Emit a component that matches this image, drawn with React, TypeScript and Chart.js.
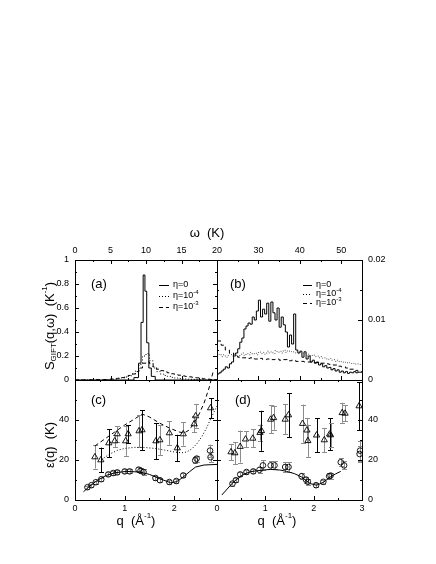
import React, { useEffect, useRef } from 'react';
import { Chart, registerables } from 'chart.js';
Chart.register(...registerables);

const W = 436;
const H = 564;
const FONT = '"Liberation Sans", Arial, Helvetica, sans-serif';

// ---------- panel (a): S(q,omega), omega 0..20 K ----------
const A_SOLID_EDGES = [0, 8.3, 8.95, 9.3, 9.6, 9.85, 10.1, 10.4, 10.75, 11.3, 20];
const A_SOLID_VALUES = [0, 0.02, 0.14, 0.48, 0.875, 0.74, 0.31, 0.1, 0.03, 0];
const A_BIN_EDGES = Array.from({ length: 41 }, (_, i) => i * 0.5);
const A_ETA4_VALUES = [
  0, 0, 0, 0, 0, 0, 0, 0, 0.002, 0.004, 0.006, 0.009, 0.013, 0.018, 0.025, 0.035,
  0.05, 0.075, 0.13, 0.2, 0.22, 0.16, 0.1, 0.07, 0.05, 0.038, 0.03, 0.022, 0.017, 0.013,
  0.01, 0.008, 0.006, 0.005, 0.004, 0.003, 0.002, 0.002, 0.001, 0.001,
];
const A_ETA3_VALUES = [
  0.001, 0.001, 0.001, 0.002, 0.002, 0.002, 0.003, 0.003, 0.004, 0.005, 0.008, 0.011, 0.015, 0.02,
  0.028, 0.038, 0.05, 0.07, 0.1, 0.14, 0.15, 0.135, 0.11, 0.09, 0.078, 0.068, 0.06, 0.052, 0.045,
  0.04, 0.034, 0.03, 0.026, 0.022, 0.018, 0.014, 0.01, 0.007, 0.005, 0.003,
];

// ---------- panel (b): omega 20..55 K ----------
const B_FINE_EDGES = Array.from({ length: 71 }, (_, i) => 20 + i * 0.5);
const B_SOLID_VALUES = [
  0.001, 0.0012, 0.0015, 0.0018, 0.0022, 0.002, 0.0027, 0.003, 0.004, 0.0045, 0.0052, 0.0063,
  0.007, 0.0085, 0.009, 0.0095, 0.0093, 0.0105, 0.01, 0.0115, 0.0133, 0.0105, 0.0118, 0.011,
  0.0128, 0.0098, 0.013, 0.0112, 0.01, 0.012, 0.0088, 0.0105, 0.0092, 0.008, 0.0055, 0.0075,
  0.006, 0.011, 0.005, 0.0045, 0.0048, 0.0038, 0.0047, 0.0035, 0.004, 0.003, 0.0033, 0.0028,
  0.003, 0.0025, 0.0027, 0.0022, 0.0024, 0.002, 0.0021, 0.0017, 0.0019, 0.0015, 0.0017, 0.0013,
  0.0015, 0.0012, 0.0014, 0.0011, 0.0013, 0.0012, 0.0014, 0.0012, 0.0013, 0.0013,
];
const B_ETA4_VALUES = [
  0.004, 0.0043, 0.0039, 0.0042, 0.0038, 0.0041, 0.0044, 0.004, 0.0043, 0.0041, 0.0039, 0.0043,
  0.0045, 0.0041, 0.0044, 0.0042, 0.0046, 0.0043, 0.0045, 0.0042, 0.0047, 0.0044, 0.0046, 0.0043,
  0.0048, 0.0045, 0.0047, 0.0044, 0.0049, 0.0046, 0.0048, 0.0045, 0.005, 0.0046, 0.0049, 0.0047,
  0.0048, 0.0045, 0.0047, 0.0044, 0.0046, 0.0043, 0.0045, 0.0041, 0.0043, 0.004, 0.0042, 0.0039,
  0.004, 0.0037, 0.0039, 0.0036, 0.0037, 0.0034, 0.0036, 0.0033, 0.0034, 0.0031, 0.0033, 0.003,
  0.0031, 0.0029, 0.003, 0.0028, 0.0029, 0.0027, 0.0028, 0.0026, 0.0027, 0.0026,
];
const B_COARSE_EDGES = Array.from({ length: 36 }, (_, i) => 20 + i);
const B_ETA3_VALUES = [
  0.0065, 0.0058, 0.005, 0.0045, 0.004, 0.0038, 0.0037, 0.0036, 0.0037, 0.0035, 0.0036, 0.0034,
  0.0035, 0.0034, 0.0035, 0.0033, 0.0034, 0.0032, 0.0033, 0.0031, 0.0031, 0.003, 0.003, 0.0029,
  0.0029, 0.0028, 0.0027, 0.0026, 0.0025, 0.0023, 0.0022, 0.002, 0.0018, 0.0016, 0.0014,
];

// ---------- panel (c): epsilon(q) ----------
const C_TRI_Q = [0.4, 0.52, 0.68, 0.8, 0.85, 1.02, 1.07, 1.29, 1.35, 1.63, 1.71, 1.9, 2.06, 2.18, 2.4, 2.43, 2.73];
const C_TRI_E = [21.5, 20, 28.5, 29.5, 33, 29.5, 33, 34.5, 35, 29.5, 30, 33.5, 26, 33, 38, 42, 46];
const C_TRI_ERR = [5.8, 6.2, 7, 3, 4, 7.4, 4.5, 8, 10, 9, 7.4, 6, 6.6, 5.8, 4, 5.8, 5];
const C_TRI_COL = ['g', 'k', 'k', 'g', 'g', 'g', 'k', 'g', 'k', 'k', 'g', 'g', 'k', 'g', 'g', 'g', 'k'];
const C_CIR_Q = [0.25, 0.33, 0.42, 0.53, 0.67, 0.77, 0.85, 1.0, 1.1, 1.28, 1.32, 1.38, 1.62, 1.71, 1.9, 2.04, 2.18, 2.42, 2.45, 2.72, 2.73];
const C_CIR_E = [6.4, 7.4, 8.9, 10.4, 12.8, 13.5, 13.8, 14.3, 14.3, 15.2, 14.6, 14, 11, 9.9, 9, 9.5, 12.3, 19.8, 20.7, 24.7, 21.4];
const C_CIR_ERR = [0.8, 0.8, 0.8, 0.8, 1, 1, 1, 1, 1, 1.2, 1.2, 1.5, 1, 1, 1, 1, 1, 1.5, 1.5, 3, 2.5];
const C_SOLID_Q = [0.17, 0.3, 0.45, 0.63, 0.8, 1.03, 1.3, 1.5, 1.7, 1.93, 2.05, 2.17, 2.3, 2.43, 2.6, 2.86];
const C_SOLID_E = [4.1, 7, 9.8, 12.3, 13.6, 14.3, 14, 12.8, 10.7, 8.6, 9.2, 11.3, 14, 16.5, 17.5, 17.8];
const C_DOT_Q = [0.58, 0.7, 0.85, 1.0, 1.2, 1.4, 1.6, 1.8, 2.0, 2.15, 2.25, 2.35, 2.45, 2.55, 2.65, 2.75, 2.86];
const C_DOT_E = [21, 23, 24.8, 25.8, 26.3, 26.3, 25.8, 25, 24, 23.6, 24, 25.5, 28, 31.5, 36, 41.5, 47];
const C_DASH_Q = [0.4, 0.6, 0.8, 1.0, 1.2, 1.35, 1.5, 1.7, 1.9, 2.1, 2.2, 2.3, 2.4, 2.5, 2.6, 2.7, 2.78];
const C_DASH_E = [27, 30.5, 34, 37.5, 40.5, 43, 41.5, 38.5, 36, 34, 33.5, 35, 38.5, 43, 48.5, 56, 64];

// ---------- panel (d) ----------
const D_TRI_Q = [0.29, 0.37, 0.48, 0.59, 0.74, 0.89, 0.92, 1.11, 1.17, 1.41, 1.48, 1.77, 1.86, 1.88, 2.06, 2.22, 2.33, 2.35, 2.59, 2.65, 2.94];
const D_TRI_E = [24, 23.5, 26.7, 30.4, 30.8, 33.7, 34.6, 40.3, 41.1, 40.3, 42.5, 38.2, 34.9, 29.6, 32.4, 30, 32.9, 32.5, 43.6, 43.3, 47];
const D_TRI_ERR = [4, 5.5, 8, 4, 4.5, 4, 10, 7, 6, 7.5, 11, 9.5, 6, 8, 8.6, 6, 8, 6, 5, 4, 12];
const D_TRI_COL = ['g', 'g', 'g', 'g', 'g', 'g', 'k', 'g', 'g', 'g', 'k', 'g', 'g', 'g', 'k', 'g', 'k', 'g', 'g', 'g', 'k'];
const D_CIR_Q = [0.32, 0.39, 0.48, 0.61, 0.75, 0.88, 0.95, 1.11, 1.19, 1.41, 1.48, 1.75, 1.84, 1.88, 2.05, 2.2, 2.32, 2.35, 2.56, 2.63, 2.95, 2.96];
const D_CIR_E = [8.2, 9.9, 12.8, 14, 14.3, 15.1, 17.3, 17.3, 17.3, 16.5, 16.5, 11.9, 10.2, 9.1, 7.4, 9.1, 11.9, 12.2, 18.9, 17.3, 23, 24.7];
const D_CIR_ERR = [1, 1, 1, 1, 1, 1.5, 2.5, 2, 2, 2.5, 2.5, 1.5, 1.5, 1.5, 1, 1, 1.5, 1.5, 2, 2, 4, 5];
const D_SOLID_Q = [0.1, 0.34, 0.54, 0.7, 0.89, 1.1, 1.3, 1.44, 1.6, 1.75, 1.93, 2.06, 2.2, 2.34, 2.45, 2.56];
const D_SOLID_E = [2.5, 9, 12.8, 14.2, 14.8, 15.3, 15, 14.3, 13.2, 11.5, 8.2, 7.4, 8.8, 11.5, 13, 14.3];

// ---------- ticks ----------
const A_X_MAJOR = [0, 5, 10, 15, 20];
const A_X_MINOR = [2.5, 7.5, 12.5, 17.5];
const A_Y_MAJOR = [0, 0.2, 0.4, 0.6, 0.8, 1];
const A_Y_MINOR = [0.1, 0.3, 0.5, 0.7, 0.9];
const A_Y_LABELS = ['0', '0.2', '0.4', '0.6', '0.8', '1'];
const B_X_MAJOR = [20, 30, 40, 50];
const B_X_MINOR = [25, 35, 45, 55];
const B_X_LABELS = ['', '30', '40', '50'];
const B_Y_MAJOR = [0, 0.01, 0.02];
const B_Y_MINOR = [0.005, 0.015];
const B_Y_LABELS = ['0', '0.01', '0.02'];
const Q_MAJOR = [0, 1, 2, 3];
const Q_MINOR = [0.5, 1.5, 2.5];
const E_MAJOR = [0, 20, 40, 60];
const E_MINOR = [10, 30, 50];
const E_LABELS = ['0', '20', '40', ''];

type Spec = {
  rect: [number, number, number, number];
  x: [number, number];
  y: [number, number];
  xMajor: number[];
  xMinor: number[];
  yMajor: number[];
  yMinor: number[];
  xLabels: string[];
  xSide: 'top' | 'bottom';
  yLabels: string[];
  ySide: 'left' | 'right';
  datasets: any[];
  extra?: (ctx: CanvasRenderingContext2D) => void;
};

function hist(edges: number[], values: number[]) {
  const p = values.map((v, i) => ({ x: edges[i], y: v }));
  p.push({ x: edges[values.length], y: values[values.length - 1] });
  return p;
}
function pts(xs: number[], ys: number[]) {
  return xs.map((x, i) => ({ x, y: ys[i] }));
}

const lineDs = (data: any[], dash: number[], extra: any = {}) => ({
  data,
  showLine: true,
  pointRadius: 0,
  borderColor: '#000',
  borderWidth: 1,
  borderDash: dash,
  fill: false,
  ...extra,
});
const markDs = (data: any[], style: string, errs: number[], cols?: string[]) => ({
  data,
  showLine: false,
  pointStyle: style,
  pointRadius: style === 'triangle' ? 3.6 : 2.8,
  borderColor: '#000',
  borderWidth: 0.9,
  backgroundColor: 'rgba(0,0,0,0)',
  errs,
  errCols: cols,
});

type Part = { t: string; s: number; dy: number };
function rich(ctx: CanvasRenderingContext2D, parts: Part[], cx: number, cy: number, rot: number, align: 'center' | 'left' = 'center') {
  ctx.save();
  ctx.translate(cx, cy);
  ctx.rotate(rot);
  ctx.fillStyle = '#000';
  ctx.textBaseline = 'middle';
  ctx.textAlign = 'left';
  let total = 0;
  parts.forEach((p) => {
    ctx.font = `${p.s}px ${FONT}`;
    total += ctx.measureText(p.t).width;
  });
  let x = align === 'center' ? -total / 2 : 0;
  parts.forEach((p) => {
    ctx.font = `${p.s}px ${FONT}`;
    ctx.fillText(p.t, x, p.dy);
    x += ctx.measureText(p.t).width;
  });
  ctx.restore();
}

function legend(ctx: CanvasRenderingContext2D, x0: number, x1: number, tx: number, rows: number[]) {
  const dashes = [[], [1, 2], [4, 3]];
  const labels: Part[][] = [
    [{ t: 'η=0', s: 9, dy: 0 }],
    [{ t: 'η=10', s: 9, dy: 0 }, { t: '-4', s: 6, dy: -4 }],
    [{ t: 'η=10', s: 9, dy: 0 }, { t: '-3', s: 6, dy: -4 }],
  ];
  rows.forEach((y, i) => {
    ctx.save();
    ctx.strokeStyle = '#000';
    ctx.lineWidth = 1;
    ctx.setLineDash(dashes[i]);
    ctx.beginPath();
    ctx.moveTo(x0, y + 0.5);
    ctx.lineTo(x1, y + 0.5);
    ctx.stroke();
    ctx.restore();
    rich(ctx, labels[i], tx, y, 0, 'left');
  });
}

function text(ctx: CanvasRenderingContext2D, t: string, x: number, y: number, size: number, align: CanvasTextAlign) {
  ctx.save();
  ctx.font = `${size}px ${FONT}`;
  ctx.fillStyle = '#000';
  ctx.textAlign = align;
  ctx.textBaseline = 'middle';
  ctx.fillText(t, x, y);
  ctx.restore();
}

const errorBarPlugin = {
  id: 'errbars',
  beforeDatasetsDraw(chart: any) {
    const ctx = chart.ctx as CanvasRenderingContext2D;
    const xs = chart.scales.x;
    const ys = chart.scales.y;
    ctx.save();
    ctx.lineWidth = 1;
    chart.data.datasets.forEach((ds: any) => {
      if (!ds.errs) return;
      ds.data.forEach((p: any, i: number) => {
        const e = ds.errs[i];
        if (!e) return;
        const x = Math.round(xs.getPixelForValue(p.x)) + 0.5;
        const y1 = ys.getPixelForValue(p.y + e);
        const y2 = ys.getPixelForValue(p.y - e);
        ctx.strokeStyle = ds.errCols && ds.errCols[i] === 'k' ? '#000' : '#8c8c8c';
        ctx.beginPath();
        ctx.moveTo(x, y1);
        ctx.lineTo(x, y2);
        ctx.moveTo(x - 2.5, Math.round(y1) + 0.5);
        ctx.lineTo(x + 2.5, Math.round(y1) + 0.5);
        ctx.moveTo(x - 2.5, Math.round(y2) + 0.5);
        ctx.lineTo(x + 2.5, Math.round(y2) + 0.5);
        ctx.stroke();
      });
    });
    ctx.restore();
  },
};

function framePlugin(spec: Spec) {
  return {
    id: 'frame',
    afterDraw(chart: any) {
      const ctx = chart.ctx as CanvasRenderingContext2D;
      const xs = chart.scales.x;
      const ys = chart.scales.y;
      const { left, right, top, bottom } = chart.chartArea;
      ctx.save();
      ctx.strokeStyle = '#000';
      ctx.lineWidth = 1;
      ctx.strokeRect(left + 0.5, top + 0.5, right - left, bottom - top);
      ctx.beginPath();
      const xt = (vals: number[], len: number) =>
        vals.forEach((v) => {
          const px = Math.round(xs.getPixelForValue(v)) + 0.5;
          ctx.moveTo(px, bottom);
          ctx.lineTo(px, bottom - len);
          ctx.moveTo(px, top);
          ctx.lineTo(px, top + len);
        });
      const yt = (vals: number[], len: number) =>
        vals.forEach((v) => {
          const py = Math.round(ys.getPixelForValue(v)) + 0.5;
          ctx.moveTo(left, py);
          ctx.lineTo(left + len, py);
          ctx.moveTo(right, py);
          ctx.lineTo(right - len, py);
        });
      xt(spec.xMajor, 4);
      xt(spec.xMinor, 2);
      yt(spec.yMajor, 4);
      yt(spec.yMinor, 2);
      ctx.stroke();
      ctx.restore();
      spec.xMajor.forEach((v, i) => {
        const t = spec.xLabels[i];
        if (!t) return;
        const px = xs.getPixelForValue(v);
        text(ctx, t, px, spec.xSide === 'top' ? 251 : 509, 9, 'center');
      });
      spec.yMajor.forEach((v, i) => {
        const t = spec.yLabels[i];
        if (!t) return;
        const py = ys.getPixelForValue(v);
        if (spec.ySide === 'left') text(ctx, t, 69, py, 9, 'right');
        else text(ctx, t, 368, py, 9, 'left');
      });
      if (spec.extra) spec.extra(ctx);
    },
  };
}

const SPECS: Spec[] = [
  {
    rect: [75, 260, 217, 380],
    x: [0, 20],
    y: [0, 1],
    xMajor: A_X_MAJOR,
    xMinor: A_X_MINOR,
    yMajor: A_Y_MAJOR,
    yMinor: A_Y_MINOR,
    xLabels: A_X_MAJOR.map(String),
    xSide: 'top',
    yLabels: A_Y_LABELS,
    ySide: 'left',
    datasets: [
      lineDs(hist(A_BIN_EDGES, A_ETA3_VALUES), [4, 3], { stepped: 'before' }),
      lineDs(hist(A_BIN_EDGES, A_ETA4_VALUES), [1, 2], { stepped: 'before' }),
      lineDs(hist(A_SOLID_EDGES, A_SOLID_VALUES), [], { stepped: 'before' }),
    ],
    extra: (ctx) => {
      text(ctx, '(a)', 91, 284, 13, 'left');
      legend(ctx, 159, 169, 173, [285, 296, 307]);
      rich(ctx, [{ t: 'ω  (K)', s: 13, dy: 0 }], 207, 233, 0);
      rich(
        ctx,
        [
          { t: 'S', s: 13, dy: 0 },
          { t: 'GIFT', s: 8, dy: 4 },
          { t: '(q,ω)  (K', s: 13, dy: 0 },
          { t: '-1', s: 8, dy: -5 },
          { t: ')', s: 13, dy: 0 },
        ],
        50,
        326,
        -Math.PI / 2
      );
    },
  },
  {
    rect: [217, 260, 362, 380],
    x: [20, 55],
    y: [0, 0.02],
    xMajor: B_X_MAJOR,
    xMinor: B_X_MINOR,
    yMajor: B_Y_MAJOR,
    yMinor: B_Y_MINOR,
    xLabels: B_X_LABELS,
    xSide: 'top',
    yLabels: B_Y_LABELS,
    ySide: 'right',
    datasets: [
      lineDs(hist(B_COARSE_EDGES, B_ETA3_VALUES), [4, 3], { stepped: 'before' }),
      lineDs(hist(B_FINE_EDGES, B_ETA4_VALUES), [1, 2], { stepped: 'before', borderColor: '#555' }),
      lineDs(hist(B_FINE_EDGES, B_SOLID_VALUES), [], { stepped: 'before' }),
    ],
    extra: (ctx) => {
      text(ctx, '(b)', 230, 284, 13, 'left');
      legend(ctx, 303, 312, 316, [285, 294, 303]);
    },
  },
  {
    rect: [75, 380, 217, 500],
    x: [0, 2.86],
    y: [0, 60],
    xMajor: Q_MAJOR.slice(0, 3),
    xMinor: Q_MINOR,
    yMajor: E_MAJOR,
    yMinor: E_MINOR,
    xLabels: ['0', '1', '2'],
    xSide: 'bottom',
    yLabels: E_LABELS,
    ySide: 'left',
    datasets: [
      lineDs(pts(C_SOLID_Q, C_SOLID_E), []),
      lineDs(pts(C_DOT_Q, C_DOT_E), [1, 2]),
      lineDs(pts(C_DASH_Q, C_DASH_E), [4, 3], { clip: false }),
      markDs(pts(C_TRI_Q, C_TRI_E), 'triangle', C_TRI_ERR, C_TRI_COL),
      markDs(pts(C_CIR_Q, C_CIR_E), 'circle', C_CIR_ERR),
    ],
    extra: (ctx) => {
      text(ctx, '(c)', 91, 400, 13, 'left');
      rich(ctx, [{ t: 'ε(q)  (K)', s: 13, dy: 0 }], 50, 445, -Math.PI / 2);
      rich(
        ctx,
        [
          { t: 'q  (Å', s: 13, dy: 0 },
          { t: '-1', s: 8, dy: -5 },
          { t: ')', s: 13, dy: 0 },
        ],
        136,
        521,
        0
      );
    },
  },
  {
    rect: [217, 380, 362, 500],
    x: [0, 3],
    y: [0, 60],
    xMajor: Q_MAJOR,
    xMinor: Q_MINOR,
    yMajor: E_MAJOR,
    yMinor: E_MINOR,
    xLabels: ['0', '1', '2', '3'],
    xSide: 'bottom',
    yLabels: E_LABELS,
    ySide: 'right',
    datasets: [
      lineDs(pts(D_SOLID_Q, D_SOLID_E), []),
      markDs(pts(D_TRI_Q, D_TRI_E), 'triangle', D_TRI_ERR, D_TRI_COL),
      markDs(pts(D_CIR_Q, D_CIR_E), 'circle', D_CIR_ERR),
    ],
    extra: (ctx) => {
      text(ctx, '(d)', 235, 400, 13, 'left');
      rich(
        ctx,
        [
          { t: 'q  (Å', s: 13, dy: 0 },
          { t: '-1', s: 8, dy: -5 },
          { t: ')', s: 13, dy: 0 },
        ],
        277,
        521,
        0
      );
    },
  },
];

function Panel({ spec }: { spec: Spec }) {
  const ref = useRef<HTMLCanvasElement>(null);
  useEffect(() => {
    const [l, t, r, b] = spec.rect;
    const chart = new Chart(ref.current as HTMLCanvasElement, {
      type: 'scatter',
      data: { datasets: spec.datasets },
      options: {
        animation: false,
        responsive: false,
        devicePixelRatio: 1,
        events: [],
        layout: { padding: { left: l, top: t, right: W - r, bottom: H - b } },
        scales: {
          x: { type: 'linear', display: false, min: spec.x[0], max: spec.x[1] },
          y: { type: 'linear', display: false, min: spec.y[0], max: spec.y[1] },
        },
        plugins: { legend: { display: false }, tooltip: { enabled: false }, title: { display: false } },
      } as any,
      plugins: [errorBarPlugin, framePlugin(spec)] as any,
    });
    return () => chart.destroy();
  }, [spec]);
  return (
    <canvas
      ref={ref}
      width={W}
      height={H}
      style={{ position: 'absolute', left: 0, top: 0, width: W, height: H }}
    />
  );
}

export default function App() {
  return (
    <div style={{ position: 'absolute', left: 0, top: 0, width: W, height: H, background: '#fff' }}>
      {SPECS.map((s, i) => (
        <Panel key={i} spec={s} />
      ))}
    </div>
  );
}
